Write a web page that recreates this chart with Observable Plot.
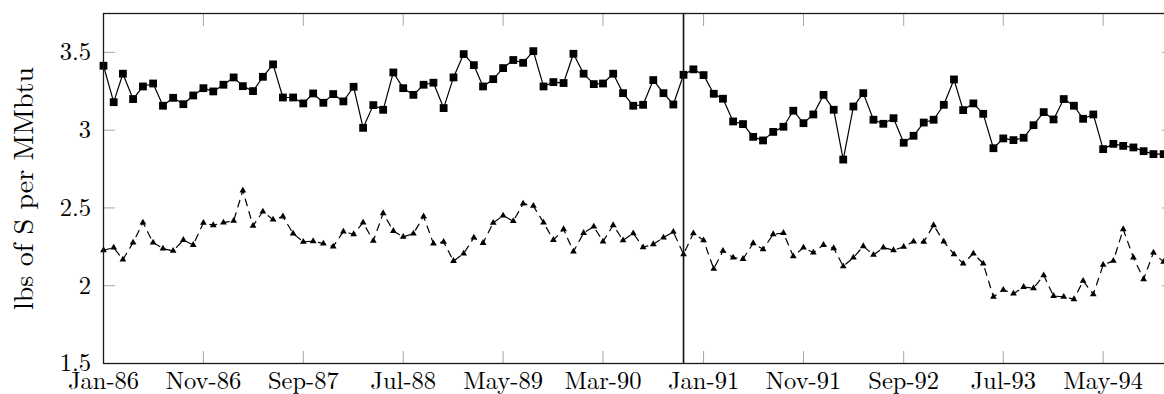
<!DOCTYPE html>
<html><head><meta charset="utf-8">
<script src="https://cdn.jsdelivr.net/npm/d3@7"></script>
<script src="https://cdn.jsdelivr.net/npm/@observablehq/plot@0.6"></script>
<style>
body{margin:0;background:#fff}
#wrap{width:1164px;height:394px;overflow:hidden;position:relative}
#wrap svg, #wrap svg text{font-family:'Latin Modern Roman','Liberation Serif',serif !important}
</style>
</head><body><div id="wrap"></div>
<script>
// ---- data ----
const startMonth = "1986-01";
const endMonth = "1994-12";
const eventMonth = "1990-11";
const tickLabels = ["Jan-86","Nov-86","Sep-87","Jul-88","May-89","Mar-90","Jan-91","Nov-91","Sep-92","Jul-93","May-94"];
const yTicks = [1.5, 2, 2.5, 3, 3.5];
const yDomain = [1.5, 3.75];
const yLabel = "lbs of S per MMbtu";

const seriesSquares = [3.414,3.18,3.363,3.20,3.281,3.30,3.157,3.208,3.167,3.223,
3.27,3.249,3.292,3.339,3.283,3.251,3.343,3.423,3.21,3.21,
3.172,3.236,3.176,3.232,3.185,3.279,3.015,3.161,3.131,3.371,
3.27,3.227,3.292,3.305,3.142,3.339,3.489,3.418,3.281,3.328,
3.399,3.451,3.433,3.508,3.281,3.309,3.303,3.491,3.363,3.296,
3.30,3.363,3.238,3.157,3.163,3.322,3.238,3.165,3.356,3.391,
3.354,3.234,3.202,3.056,3.039,2.957,2.934,2.989,3.022,3.125,
3.045,3.101,3.227,3.131,2.811,3.152,3.238,3.067,3.041,3.077,
2.919,2.964,3.049,3.067,3.163,3.326,3.129,3.172,3.105,2.884,
2.947,2.936,2.951,3.032,3.116,3.069,3.20,3.157,3.073,3.101,
2.878,2.912,2.899,2.889,2.865,2.846,2.846];

const seriesTriangles = [2.228,2.245,2.168,2.277,2.406,2.277,2.239,2.224,2.294,2.262,
2.404,2.389,2.406,2.417,2.612,2.385,2.477,2.425,2.445,2.335,
2.282,2.286,2.271,2.252,2.348,2.331,2.406,2.288,2.466,2.352,
2.314,2.335,2.445,2.271,2.282,2.159,2.207,2.309,2.275,2.404,
2.451,2.415,2.528,2.513,2.406,2.294,2.363,2.219,2.339,2.38,
2.284,2.389,2.292,2.337,2.247,2.267,2.309,2.346,2.202,2.337,
2.292,2.108,2.224,2.181,2.172,2.273,2.234,2.331,2.339,2.189,
2.245,2.213,2.262,2.241,2.125,2.181,2.254,2.198,2.245,2.228,
2.25,2.284,2.282,2.389,2.284,2.202,2.142,2.207,2.142,1.928,
1.973,1.949,1.992,1.984,2.067,1.934,1.928,1.913,2.031,1.945,
2.134,2.16,2.363,2.181,2.042,2.213,2.153];

// ---- build ----
const parseYM = d3.utcParse("%Y-%m");
const parseTick = d3.utcParse("%b-%y");
const fmtTick = d3.utcFormat("%b-%y");
const start = parseYM(startMonth);
const monthOf = i => d3.utcMonth.offset(start, i);
const tickDates = tickLabels.map(parseTick);
const sq = seriesSquares.map((v, i) => ({date: monthOf(i), value: v}));
const tri = seriesTriangles.map((v, i) => ({date: monthOf(i), value: v}));

const FONT = "Latin Modern Roman";
const TICKC = "#a6a6a6";

const chart = Plot.plot({
  width: 1180, height: 394,
  marginLeft: 103, marginRight: 7, marginTop: 13, marginBottom: 31,
  style: {fontFamily: FONT, fontSize: "24.5px", color: "black", background: "white", maxWidth: "none", overflow: "visible"},
  x: {type: "utc", domain: [start, parseYM(endMonth)], label: null},
  y: {domain: yDomain, label: null},
  marks: [
    // inward tick marks on all four sides
    Plot.axisX({ticks: tickDates, anchor: "bottom", tickSize: -12, stroke: TICKC, strokeWidth: 1, tickFormat: () => "", label: null}),
    Plot.axisX({ticks: tickDates, anchor: "top", tickSize: -12, stroke: TICKC, strokeWidth: 1, tickFormat: () => "", label: null}),
    Plot.axisY({ticks: yTicks, anchor: "left", tickSize: -12, stroke: TICKC, strokeWidth: 1, tickFormat: () => "", label: null}),
    Plot.axisY({ticks: yTicks, anchor: "right", tickSize: -12, stroke: TICKC, strokeWidth: 1, tickFormat: () => "", label: null}),
    // tick labels
    Plot.axisX({ticks: tickDates, anchor: "bottom", tickSize: 0, tickPadding: 8, tickFormat: fmtTick, fontSize: 24.5, fontFamily: FONT, label: null}),
    Plot.axisY({ticks: yTicks, anchor: "left", tickSize: 0, tickPadding: 12.5, tickFormat: d => String(d), fontSize: 24.5, fontFamily: FONT, label: null}),
    // series
    Plot.line(sq, {x: "date", y: "value", stroke: "black", strokeWidth: 1.2}),
    Plot.dot(sq, {x: "date", y: "value", symbol: "square", r: 4.4, fill: "black", stroke: "none"}),
    Plot.line(tri, {x: "date", y: "value", stroke: "black", strokeWidth: 1.2, strokeDasharray: "7,6"}),
    Plot.dot(tri, {x: "date", y: "value", symbol: "triangle", r: 2.5, fill: "black", stroke: "none"}),
    // event line
    Plot.ruleX([parseYM(eventMonth)], {stroke: "#111", strokeWidth: 1.6}),
    Plot.frame({stroke: "#1a1a1a", strokeWidth: 1.3}),
    // y label
    Plot.text([yLabel], {frameAnchor: "left", textAnchor: "middle", rotate: -90, dx: -79.5, fontSize: 28, fontFamily: FONT, fill: "black", lineAnchor: "middle"})
  ]
});
chart.setAttribute("font-family", FONT);
chart.querySelectorAll("text, g").forEach(el => { el.style.fontFamily = "'Latin Modern Roman', 'Liberation Serif', serif"; });
document.getElementById("wrap").appendChild(chart);
</script>
</body></html>
